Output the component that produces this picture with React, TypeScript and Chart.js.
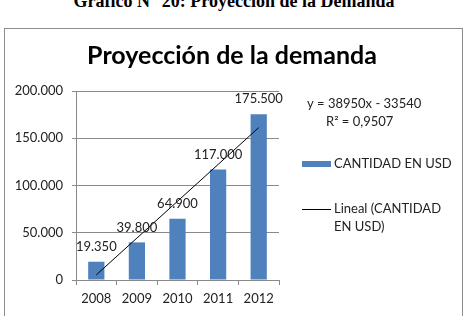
import React, { useEffect, useRef } from "react";
import { Chart, registerables } from "chart.js";

Chart.register(...registerables);

const years = ["2008", "2009", "2010", "2011", "2012"];
const demand = [19350, 39800, 64900, 117000, 175500];
const trendSlope = 38950;
const trendIntercept = -33540;
const rSquaredText = "0,9507";
const yTickValues = [0, 50000, 100000, 150000, 200000];

const FONT = "Lato, 'Noto Sans', sans-serif";
const BAR_BLUE = "#4F81BD";
const GRID = "#8a8a8a";
const TEXT = "#222";

const fmt = (n: number) => String(n).replace(/\B(?=(\d{3})+(?!\d))/g, ".");

// Linear trend evaluated at category positions 1..n from the stated equation
const trend = years.map((_, i) => trendSlope * (i + 1) + trendIntercept);

const CANVAS_W = 457;
const CANVAS_H = 290;

const overlayPlugin = {
  id: "overlay",
  afterDatasetsDraw(chart: any) {
    const ctx = chart.ctx as CanvasRenderingContext2D;
    ctx.save();
    // value labels above the bars
    const meta = chart.getDatasetMeta(0);
    ctx.font = `13px ${FONT}`;
    ctx.fillStyle = TEXT;
    ctx.textAlign = "center";
    ctx.textBaseline = "middle";
    meta.data.forEach((bar: any, i: number) => {
      ctx.fillText(fmt(demand[i]), bar.x, bar.y - 15);
    });
    ctx.restore();
  },
  afterDraw(chart: any) {
    const ctx = chart.ctx as CanvasRenderingContext2D;
    ctx.save();
    // title
    ctx.font = `bold 25px ${FONT}`;
    ctx.fillStyle = "#000";
    ctx.textAlign = "center";
    ctx.textBaseline = "alphabetic";
    ctx.fillText("Proyección de la demanda", 227, 35);

    // trend equation
    ctx.font = `13px ${FONT}`;
    ctx.fillStyle = TEXT;
    ctx.textAlign = "left";
    ctx.textBaseline = "middle";
    ctx.fillText(`y = ${trendSlope}x - ${-trendIntercept}`, 302, 75);
    ctx.fillText(`R² = ${rSquaredText}`, 321, 93);

    // legend
    ctx.fillStyle = BAR_BLUE;
    ctx.fillRect(297, 132, 29, 6);
    ctx.fillStyle = TEXT;
    ctx.fillText(chart.data.datasets[0].label, 329, 135);

    ctx.strokeStyle = "#000";
    ctx.lineWidth = 1;
    ctx.beginPath();
    ctx.moveTo(297, 180.5);
    ctx.lineTo(326, 180.5);
    ctx.stroke();
    ctx.fillText("Lineal (CANTIDAD", 329, 180);
    ctx.fillText("EN USD)", 329, 198);
    ctx.restore();
  },
};

export default function App() {
  const canvasRef = useRef<HTMLCanvasElement | null>(null);

  useEffect(() => {
    if (!canvasRef.current) return;
    const chart = new Chart(canvasRef.current, {
      type: "bar",
      data: {
        labels: years,
        datasets: [
          {
            type: "bar",
            label: "CANTIDAD EN USD",
            data: demand,
            backgroundColor: BAR_BLUE,
            barPercentage: 0.4,
            categoryPercentage: 1,
            order: 2,
          },
          {
            type: "line",
            label: "Lineal (CANTIDAD EN USD)",
            data: trend,
            borderColor: "#000",
            borderWidth: 1,
            pointRadius: 0,
            tension: 0,
            order: 1,
          } as any,
        ],
      },
      options: {
        responsive: false,
        animation: false,
        devicePixelRatio: 1,
        layout: { padding: { left: 0, top: 62, right: CANVAS_W - 274, bottom: 0 } },
        plugins: {
          legend: { display: false },
          title: { display: false },
          tooltip: { enabled: false },
        },
        scales: {
          x: {
            grid: {
              offset: true,
              drawOnChartArea: false,
              color: GRID,
              tickLength: 5,
            },
            border: { color: GRID },
            ticks: { color: TEXT, font: { family: FONT, size: 13 }, padding: 6 },
            afterFit: (scale: any) => {
              scale.height = CANVAS_H - 251;
            },
          },
          y: {
            min: 0,
            max: 200000,
            afterBuildTicks: (scale: any) => {
              scale.ticks = yTickValues.map((v) => ({ value: v }));
            },
            grid: { color: GRID, tickLength: 4 },
            border: { color: GRID },
            ticks: {
              color: TEXT,
              font: { family: FONT, size: 13 },
              padding: 9,
              callback: (v: any) => fmt(Number(v)),
            },
            afterFit: (scale: any) => {
              scale.width = 71;
            },
          },
        },
      },
      plugins: [overlayPlugin],
    });
    return () => chart.destroy();
  }, []);

  return (
    <div
      style={{
        position: "fixed",
        left: 0,
        top: 0,
        width: 468,
        height: 316,
        overflow: "hidden",
        background: "#fff",
      }}
    >
      <div
        style={{
          position: "absolute",
          left: 0,
          width: 468,
          top: -8,
          textAlign: "center",
          font: "bold 18px/18px 'Liberation Serif', serif",
          color: "#000",
          whiteSpace: "nowrap",
        }}
      >
        Gráfico N° 20: Proyección de la Demanda
      </div>
      <div
        style={{
          position: "absolute",
          left: 4,
          top: 28,
          width: CANVAS_W,
          height: CANVAS_H + 10,
          border: "1px solid #8c8c8c",
        }}
      >
        <canvas
          ref={canvasRef}
          width={CANVAS_W}
          height={CANVAS_H}
          style={{ display: "block", width: CANVAS_W, height: CANVAS_H }}
        />
      </div>
    </div>
  );
}
